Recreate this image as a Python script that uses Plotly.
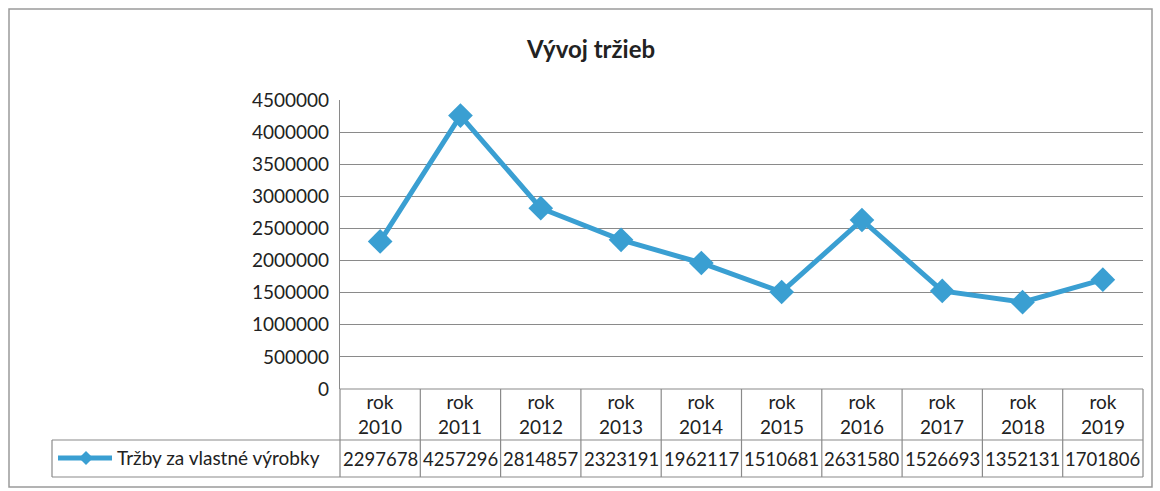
import plotly.graph_objects as go

categories = ["rok 2010", "rok 2011", "rok 2012", "rok 2013", "rok 2014",
              "rok 2015", "rok 2016", "rok 2017", "rok 2018", "rok 2019"]
values = [2297678, 4257296, 2814857, 2323191, 1962117,
          1510681, 2631580, 1526693, 1352131, 1701806]
series_name = "Tržby za vlastné výrobky"
title_text = "Vývoj tržieb"

W, H = 1160, 491
L, R, T, B = 340, 1143, 100, 389  # plot area pixels
FONT = "Lato"
LINE_COLOR = "#3a9fd2"
GRID = "#8a8a8a"

def px(xp):
    return (xp - L) / (R - L)

def py(yp):
    return (B - yp) / (B - T)

n = len(categories)
xs = list(range(n))

fig = go.Figure()
fig.add_trace(go.Scatter(
    x=xs, y=values, mode="lines+markers", name=series_name,
    line=dict(color=LINE_COLOR, width=5),
    marker=dict(symbol="diamond", size=19, color=LINE_COLOR),
    showlegend=False, cliponaxis=False,
))

shapes = []
shapes.append(dict(type="rect", xref="paper", yref="paper",
                   x0=px(9), x1=px(1152), y0=py(487), y1=py(9),
                   line=dict(color="#9a9a9a", width=1.5)))
row1 = 440
row2 = 477
shapes.append(dict(type="line", xref="paper", yref="paper",
                   x0=0, x1=1, y0=0, y1=0, line=dict(color=GRID, width=1.2)))
shapes.append(dict(type="line", xref="paper", yref="paper",
                   x0=px(52), x1=1, y0=py(row1), y1=py(row1), line=dict(color=GRID, width=1.2)))
shapes.append(dict(type="line", xref="paper", yref="paper",
                   x0=px(52), x1=1, y0=py(row2), y1=py(row2), line=dict(color=GRID, width=1.2)))
shapes.append(dict(type="line", xref="paper", yref="paper",
                   x0=px(52), x1=px(52), y0=py(row1), y1=py(row2), line=dict(color=GRID, width=1.2)))
for i in range(n + 1):
    xv = i / n
    shapes.append(dict(type="line", xref="paper", yref="paper",
                       x0=xv, x1=xv, y0=py(row2), y1=0, line=dict(color=GRID, width=1.2)))
ly = py(458)
shapes.append(dict(type="line", xref="paper", yref="paper",
                   x0=px(58), x1=px(112), y0=ly, y1=ly,
                   line=dict(color=LINE_COLOR, width=5)))
cx, cy, d = 86, 458, 7
path = "M {} {} L {} {} L {} {} L {} {} Z".format(
    px(cx - d), py(cy), px(cx), py(cy - d), px(cx + d), py(cy), px(cx), py(cy + d))
shapes.append(dict(type="path", xref="paper", yref="paper", path=path,
                   fillcolor=LINE_COLOR, line=dict(color=LINE_COLOR, width=0)))

annotations = []
for i, (c, v) in enumerate(zip(categories, values)):
    word, year = c.split(" ")
    annotations.append(dict(x=i, xref="x", y=py(414), yref="paper",
                            text=word + "<br>" + year, showarrow=False,
                            font=dict(family=FONT, size=19, color="#222"),
                            xanchor="center", yanchor="middle"))
    annotations.append(dict(x=i, xref="x", y=py(459), yref="paper",
                            text=str(v), showarrow=False,
                            font=dict(family=FONT, size=18.5, color="#222"),
                            xanchor="center", yanchor="middle"))
annotations.append(dict(x=px(115), xref="paper", y=py(458), yref="paper",
                        text=series_name, showarrow=False,
                        font=dict(family=FONT, size=19, color="#222"),
                        xanchor="left", yanchor="middle"))

fig.update_layout(
    width=W, height=H,
    margin=dict(l=L, r=W - R, t=T, b=H - B),
    paper_bgcolor="white", plot_bgcolor="white",
    title=dict(text="<b>" + title_text + "</b>", x=591 / W, xanchor="center",
               y=1 - 50 / H, yanchor="middle", xref="container", yref="container",
               font=dict(family=FONT, size=24, color="#222")),
    xaxis=dict(range=[-0.5, n - 0.5], showticklabels=False, showgrid=False,
               zeroline=False, showline=False, fixedrange=True),
    yaxis=dict(range=[0, 4500000], dtick=500000, tickformat="d",
               showgrid=True, gridcolor=GRID, gridwidth=1.2,
               showline=True, linecolor=GRID, linewidth=1.2,
               zeroline=False, ticks="", ticklabelstandoff=6,
               tickfont=dict(family=FONT, size=19, color="#222")),
    shapes=shapes, annotations=annotations,
)

fig.write_html("out.html", config={"displayModeBar": False},
               post_script="document.body.style.margin='0';document.body.style.overflow='hidden';")
